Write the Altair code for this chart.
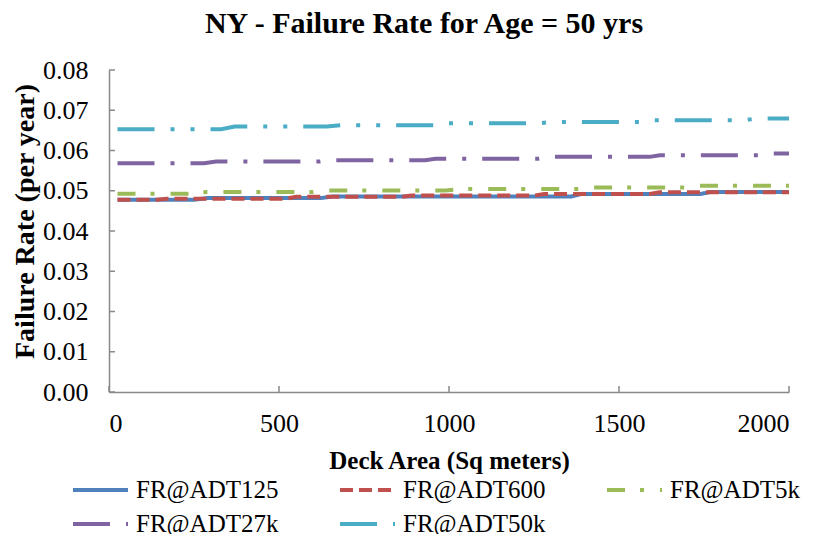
import altair as alt
import pandas as pd

# ---------------- data ----------------
series_names = ["FR@ADT125", "FR@ADT600", "FR@ADT5k", "FR@ADT27k", "FR@ADT50k"]
series_colors = ["#4F81BD", "#C0504D", "#9BBB59", "#8064A2", "#4BACC6"]
series_dashes = [[1, 0], [13, 6], [18, 15, 4, 16], [37, 16, 4, 16], [37, 16, 4, 16, 4, 16]]

adt125_x = [25, 250, 290, 625, 660, 1360, 1390, 1740, 1770, 2000]
adt125_y = [0.04775, 0.04775, 0.0482, 0.0482, 0.0486, 0.0486, 0.0492, 0.0492, 0.0497, 0.0497]

adt600_x = [25, 140, 170, 520, 550, 860, 890, 1250, 1280, 1590, 1620, 2000]
adt600_y = [0.04775, 0.04775, 0.0480, 0.0480, 0.0485, 0.0485, 0.0488, 0.0488, 0.0492, 0.0492, 0.0496, 0.0496]

adt5k_x = [25, 250, 285, 600, 640, 990, 1030, 1380, 1420, 1700, 1730, 2000]
adt5k_y = [0.04925, 0.04925, 0.04967, 0.04967, 0.05006, 0.05006, 0.05041, 0.05041, 0.05081, 0.05081, 0.05123, 0.05123]

adt27k_x = [25, 280, 315, 620, 650, 930, 960, 1260, 1290, 1590, 1620, 1920, 1950, 2000]
adt27k_y = [0.05686, 0.05686, 0.05726, 0.05726, 0.0576, 0.0576, 0.05795, 0.05795, 0.05842, 0.05842, 0.05884, 0.05884, 0.05924, 0.05924]

adt50k_x = [25, 330, 370, 640, 680, 960, 990, 1270, 1300, 1570, 1600, 1870, 1900, 2000]
adt50k_y = [0.0653, 0.0653, 0.06594, 0.06594, 0.06629, 0.06629, 0.06678, 0.06678, 0.0671, 0.0671, 0.06753, 0.06753, 0.06792, 0.06792]

x_ticks = [0, 500, 1000, 1500, 2000]
y_ticks = [0.0, 0.01, 0.02, 0.03, 0.04, 0.05, 0.06, 0.07, 0.08]

chart_title = "NY - Failure Rate for Age = 50 yrs"
x_title = "Deck Area (Sq meters)"
y_title = "Failure Rate (per year)"

# ---------------- table ----------------
rows = []
for name, xs, ys in zip(series_names,
                        [adt125_x, adt600_x, adt5k_x, adt27k_x, adt50k_x],
                        [adt125_y, adt600_y, adt5k_y, adt27k_y, adt50k_y]):
    for xv, yv in zip(xs, ys):
        rows.append({"series": name, "area": xv, "rate": yv})
df = pd.DataFrame(rows)

PW, PH = 680, 322
FONT = "Liberation Serif"
GRAY = "#898989"

x_axis = alt.Axis(values=x_ticks, format="d", title=x_title, labelFontSize=26, labelPadding=18,
                  titleFontSize=25, titlePadding=12)
y_axis = alt.Axis(values=y_ticks, format=".2f", title=y_title, labelFontSize=26,
                  labelPadding=21, titleFontSize=28, titlePadding=3, titleY=151)
x_scale = alt.Scale(domain=[0, 2000], nice=False, zero=False)
y_scale = alt.Scale(domain=[0, 0.08], nice=False)

legend = alt.Legend(
    orient="none", legendX=-21.5, legendY=407, title=None, columns=3, direction="horizontal",
    symbolType="M-2.5,0H2.5", symbolSize=484, symbolStrokeWidth=4,
    labelFont=FONT, labelFontSize=25, labelColor="black", labelOffset=22.5,
    labelLimit=300, columnPadding=53, rowPadding=8, padding=0, gridAlign="all",
)

lines = alt.Chart(df).mark_line(strokeWidth=4, strokeCap="butt").encode(
    x=alt.X("area:Q", scale=x_scale, axis=x_axis),
    y=alt.Y("rate:Q", scale=y_scale, axis=y_axis),
    color=alt.Color("series:N", scale=alt.Scale(domain=series_names, range=series_colors),
                    legend=legend),
    strokeDash=alt.StrokeDash("series:N", scale=alt.Scale(domain=series_names, range=series_dashes),
                              legend=legend),
)

xt = alt.Chart(pd.DataFrame({"area": x_ticks})).mark_rule(color=GRAY, strokeWidth=1.5).encode(
    x=alt.X("area:Q", scale=x_scale, axis=x_axis),
    y=alt.value(PH), y2=alt.value(PH - 6),
)
yt = alt.Chart(pd.DataFrame({"rate": y_ticks})).mark_rule(color=GRAY, strokeWidth=1.5).encode(
    y=alt.Y("rate:Q", scale=y_scale, axis=y_axis),
    x=alt.value(0), x2=alt.value(6),
)

chart = alt.layer(xt, yt, lines).properties(
    width=PW, height=PH,
    title=alt.TitleParams(chart_title, font=FONT, fontSize=30, fontWeight="bold", color="black",
                          anchor="middle", frame="group", dx=-25, offset=18),
    autosize=alt.AutoSizeParams(type="none"),
    padding={"left": 101, "top": 62, "right": 18, "bottom": 142},
).configure_view(stroke=None).configure_axis(
    grid=False, ticks=False, tickSize=0, domainColor=GRAY, domainWidth=1.5,
    labelFont=FONT, titleFont=FONT, labelColor="black", titleColor="black",
    titleFontWeight="bold",
)

chart.save("out.html", embed_options={"renderer": "svg", "actions": False})
